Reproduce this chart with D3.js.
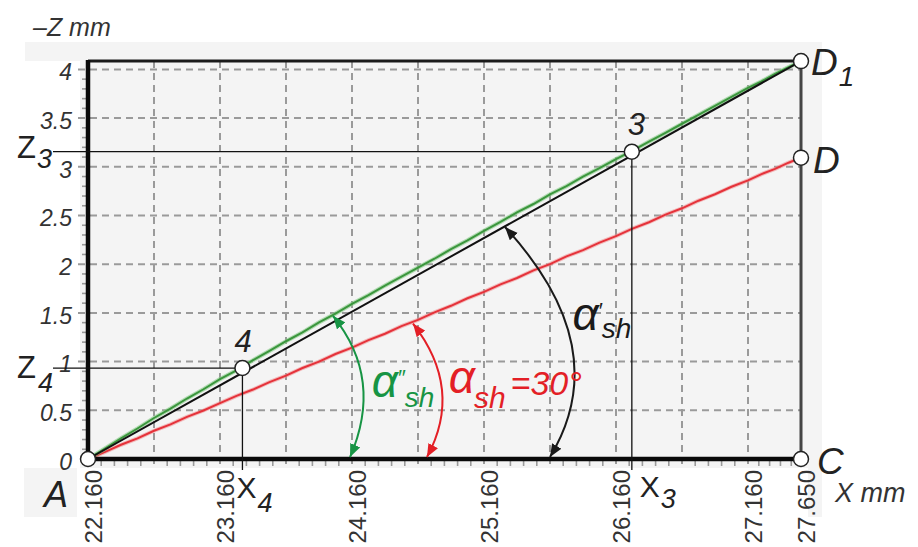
<!DOCTYPE html>
<html>
<head>
<meta charset="utf-8">
<script src="https://cdn.jsdelivr.net/npm/d3@7"></script>
<style>
  body { margin: 0; background: #fff; }
  svg { display: block; font-family: "Liberation Sans", Arial, Helvetica, sans-serif; }
</style>
</head>
<body>
<svg id="chart" width="918" height="547"></svg>
<script>
// ---------- data ----------
// labelled positions along the X axis (mm)
const xTickValues = [22.16, 23.16, 24.16, 25.16, 26.16, 27.16, 27.65];
// dashed vertical grid (mm)
const xGridValues = [22.66, 23.16, 23.66, 24.16, 24.66, 25.16, 25.66, 26.16, 26.66, 27.16];
// labelled positions along the Z axis (mm)
const zTickValues = [0, 0.5, 1, 1.5, 2, 2.5, 3, 3.5, 4];
const zTickLabels = ["0", "0.5", "1", "1.5", "2", "2.5", "3", "3.5", "4"];

// measured profile, green trace
const greenX = [22.160, 22.285, 22.410, 22.535, 22.660, 22.785, 22.910, 23.035, 23.160, 23.285,
                23.410, 23.535, 23.660, 23.785, 23.910, 24.035, 24.160, 24.285, 24.410, 24.535,
                24.660, 24.785, 24.910, 25.035, 25.160, 25.285, 25.410, 25.535, 25.660, 25.785,
                25.910, 26.035, 26.160, 26.285, 26.410, 26.535, 26.660, 26.785, 26.910, 27.035,
                27.160, 27.285, 27.410, 27.535, 27.650];
const greenZ = [0.000, 0.104, 0.212, 0.313, 0.421, 0.517, 0.621, 0.716, 0.820, 0.911,
                1.014, 1.110, 1.209, 1.299, 1.403, 1.493, 1.592, 1.683, 1.781, 1.872,
                1.965, 2.056, 2.154, 2.245, 2.343, 2.434, 2.532, 2.618, 2.717, 2.802,
                2.900, 2.986, 3.079, 3.165, 3.258, 3.349, 3.442, 3.533, 3.626, 3.717,
                3.810, 3.878, 3.954, 4.023, 4.085];

// measured profile, red trace
const redX = greenX;
const redZ = [0.000, 0.070, 0.146, 0.212, 0.290, 0.356, 0.433, 0.498, 0.574, 0.648,
              0.713, 0.790, 0.856, 0.934, 1.000, 1.078, 1.143, 1.221, 1.286, 1.364,
              1.428, 1.506, 1.573, 1.650, 1.716, 1.793, 1.858, 1.936, 2.001, 2.080,
              2.145, 2.222, 2.288, 2.366, 2.431, 2.509, 2.574, 2.652, 2.718, 2.795,
              2.861, 2.925, 2.979, 3.042, 3.094];

// straight reference line A–D1
const blackX = [22.16, 27.65];
const blackZ = [0, 4.085];

// characteristic points
const pointNames = ["A", "C", "D", "D1", "3", "4"];
const pointX = [22.16, 27.65, 27.65, 27.65, 26.28, 23.33];
const pointZ = [0, 0, 3.094, 4.085, 3.155, 0.934];

// angle arrows: start on the line, bend point, end on the X axis (mm)
const arcNames = ["green", "red", "black"];
const arcStartX = [24.016, 24.622, 25.319];
const arcStartZ = [1.47, 1.39, 2.382];
const arcBendX = [24.402, 25.008, 26.16];
const arcBendZ = [0.821, 0.719, 1.14];
const arcEndX = [24.145, 24.728, 25.66];
const arcEndZ = [0.02, 0.02, 0.02];

// ---------- drawing ----------
const svg = d3.select("#chart");
const GREEN = "#179444", RED = "#e31f26", INK = "#222", TXT = "#333";

const x = d3.scaleLinear().domain([22.16, 27.16, 27.65]).range([88, 748, 801]);
const y = d3.scaleLinear().domain([0, 4]).range([459, 69.4]);
const xMax = 27.65, zTop = 4.085;

// panel background
const bg = svg.append("g").attr("fill", "#f4f4f4");
bg.append("rect").attr("x", 80).attr("y", 42).attr("width", 742).attr("height", 426);
bg.append("rect").attr("x", 25).attr("y", 42).attr("width", 60).attr("height", 19);
bg.append("rect").attr("x", 24).attr("y", 468).attr("width", 53).attr("height", 49);
bg.append("rect").attr("x", 808).attr("y", 468).attr("width", 14).attr("height", 49);

// dashed grid
const grid = svg.append("g")
  .attr("stroke", "#9a9a9a").attr("stroke-width", 2).attr("stroke-dasharray", "7,5");
grid.selectAll("line.h").data(zTickValues.filter(v => v > 0)).join("line")
  .attr("class", "h")
  .attr("x1", 78).attr("x2", x(xMax))
  .attr("y1", d => y(d)).attr("y2", d => y(d));
grid.selectAll("line.v").data(xGridValues).join("line")
  .attr("class", "v")
  .attr("x1", d => x(d)).attr("x2", d => x(d))
  .attr("y1", y(zTop)).attr("y2", 468);

// minor ticks
const minor = svg.append("g").attr("stroke", "#9a9a9a").attr("stroke-width", 1.6);
minor.selectAll("line.mz").data(d3.range(1, 41).filter(i => i % 5 !== 0).map(i => i / 10)).join("line")
  .attr("class", "mz")
  .attr("x1", x(22.16) - 6).attr("x2", x(22.16))
  .attr("y1", d => y(d)).attr("y2", d => y(d));
minor.selectAll("line.mx").data(d3.range(1, 55).filter(i => i % 5 !== 0).map(i => 22.16 + i / 10)).join("line")
  .attr("class", "mx")
  .attr("x1", d => x(d)).attr("x2", d => x(d))
  .attr("y1", y(0)).attr("y2", y(0) + 7);

// traces
const line = d3.line().x(d => x(d[0])).y(d => y(d[1]));
const redPts = redX.map((v, i) => [v, redZ[i]]);
const greenPts = greenX.map((v, i) => [v, greenZ[i]]);
const blackPts = blackX.map((v, i) => [v, blackZ[i]]);

svg.append("path").datum(redPts).attr("d", line)
  .attr("fill", "none").attr("stroke", "#f08a8c").attr("stroke-width", 4).attr("opacity", 0.55);
svg.append("path").datum(redPts).attr("d", line)
  .attr("fill", "none").attr("stroke", "#e5323a").attr("stroke-width", 2);
svg.append("path").datum(greenPts).attr("d", line)
  .attr("fill", "none").attr("stroke", "#86c986").attr("stroke-width", 4.2).attr("opacity", 0.6);
svg.append("path").datum(greenPts).attr("d", line)
  .attr("fill", "none").attr("stroke", "#3b963d").attr("stroke-width", 2);
svg.append("path").datum(blackPts).attr("d", line)
  .attr("fill", "none").attr("stroke", "#111").attr("stroke-width", 2);

// frame
const frame = svg.append("g").attr("fill", "none");
frame.append("line").attr("x1", x(22.16)).attr("x2", x(xMax)).attr("y1", y(zTop)).attr("y2", y(zTop))
  .attr("stroke", "#1a1a1a").attr("stroke-width", 3);
frame.append("line").attr("x1", x(xMax)).attr("x2", x(xMax)).attr("y1", y(zTop)).attr("y2", y(0))
  .attr("stroke", "#454545").attr("stroke-width", 3);
frame.append("line").attr("x1", x(22.16)).attr("x2", x(22.16)).attr("y1", y(zTop) - 1).attr("y2", y(0) + 2)
  .attr("stroke", "#0a0a0a").attr("stroke-width", 4.5);
frame.append("line").attr("x1", x(22.16) - 2).attr("x2", x(xMax)).attr("y1", y(0)).attr("y2", y(0))
  .attr("stroke", "#0a0a0a").attr("stroke-width", 4.5);

// axis tick labels
const yAxis = d3.axisLeft(y).tickValues(zTickValues)
  .tickFormat((d, i) => zTickLabels[i]).tickSize(0).tickPadding(16);
const gy = svg.append("g").attr("transform", `translate(${x(22.16)},0)`).call(yAxis);
gy.select(".domain").remove();
gy.selectAll("text")
  .attr("font-family", "'Liberation Sans', Arial, sans-serif")
  .attr("font-size", 23).attr("font-style", "italic").attr("fill", TXT)
  .attr("y", 3);

const xAxis = d3.axisBottom(x).tickValues(xTickValues).tickFormat(d3.format(".3f")).tickSize(0);
const gx = svg.append("g").attr("transform", `translate(0,${y(0)})`).call(xAxis);
gx.select(".domain").remove();
gx.selectAll("text")
  .attr("font-family", "'Liberation Sans', Arial, sans-serif")
  .attr("font-size", 24).attr("fill", TXT)
  .attr("transform", "rotate(-90)")
  .attr("text-anchor", "end")
  .attr("x", -11).attr("y", 5).attr("dy", "0.35em");

// leader lines to points 3 and 4
const leaders = svg.append("g").attr("stroke", "#111").attr("stroke-width", 1.3);
[4, 5].forEach(i => {
  const px = x(pointX[i]), py = y(pointZ[i]);
  leaders.append("line").attr("x1", 53).attr("x2", px).attr("y1", py).attr("y2", py);
  leaders.append("line").attr("x1", px).attr("x2", px).attr("y1", py).attr("y2", y(0) + 11);
});

// arrow markers
const defs = svg.append("defs");
const arcColors = { green: GREEN, red: RED, black: "#1a1a1a" };
arcNames.forEach(n => {
  defs.append("marker").attr("id", "arr-" + n)
    .attr("viewBox", "0 0 12 10").attr("refX", 12).attr("refY", 5)
    .attr("markerUnits", "userSpaceOnUse").attr("markerWidth", 13).attr("markerHeight", 11)
    .attr("orient", "auto-start-reverse")
    .append("path").attr("d", "M0,0 L12,5 L0,10 Z").attr("fill", arcColors[n]);
});
arcNames.forEach((n, i) => {
  const p = d3.path();
  p.moveTo(x(arcStartX[i]), y(arcStartZ[i]));
  p.quadraticCurveTo(x(arcBendX[i]), y(arcBendZ[i]), x(arcEndX[i]), y(arcEndZ[i]));
  svg.append("path").attr("d", p.toString())
    .attr("fill", "none").attr("stroke", arcColors[n]).attr("stroke-width", 2)
    .attr("marker-start", `url(#arr-${n})`).attr("marker-end", `url(#arr-${n})`);
});

// point markers
svg.append("g").selectAll("circle").data(pointNames).join("circle")
  .attr("cx", (d, i) => x(pointX[i])).attr("cy", (d, i) => y(pointZ[i]))
  .attr("r", 7.5).attr("fill", "#fff").attr("stroke", INK).attr("stroke-width", 1.5);

// text built from consecutive runs; each run: [string, size, dy, dx, italic]
function label(px, py, runs, fill) {
  const t = svg.append("text").attr("x", px).attr("y", py).attr("fill", fill || "#222");
  runs.forEach(([s, size, dy, dx, italic]) => {
    t.append("tspan")
      .attr("dy", dy || 0).attr("dx", dx || 0)
      .attr("font-size", size).attr("font-style", italic === false ? "normal" : "italic")
      .text(s);
  });
  return t;
}

// axis titles
label(33, 36, [["–Z mm", 25]], TXT);
label(835, 502, [["X mm", 27]], TXT);

// point letters
const P = i => [x(pointX[i]), y(pointZ[i])];
{
  let [px, py] = P(0); label(px - 44, py + 48, [["A", 36]]);
  [px, py] = P(1); label(px + 16, py + 15, [["C", 37]]);
  [px, py] = P(2); label(px + 12, py + 15, [["D", 37]]);
  [px, py] = P(3); label(px + 10, py + 14, [["D", 37], ["1", 28, 11, 1]]);
  [px, py] = P(4);
  label(px - 4, py - 17, [["3", 31]]);
  label(17, py + 6, [["Z", 31, 0, 0, false], ["3", 27, 10, 1]]);
  label(px + 8, 497, [["X", 30, 0, 0, false], ["3", 27, 11, 1]]);
  [px, py] = P(5);
  label(px - 8, py - 16, [["4", 31]]);
  label(17, py + 10, [["Z", 31, 0, 0, false], ["4", 27, 14, 2]]);
  label(px - 6, 498, [["X", 30, 0, 0, false], ["4", 27, 14, 1]]);
}

// angle labels
{
  // α″sh (green)
  let bx = x(24.31), by = y(0.637);
  label(bx, by, [["α", 46], ["″", 22, -12, -1], ["sh", 28, 22, 0]], GREEN);
  // αsh = 30° (red)
  bx = x(24.90); by = y(0.678);
  label(bx - 1, by, [["α", 46], ["sh", 30, 15, -1], ["=30°", 34, -13, 5]], RED);
  // α′sh (black)
  bx = x(25.83); by = y(1.324);
  label(bx, by, [["α", 46], ["′", 22, -12, -1], ["sh", 28, 20, 0]], "#1a1a1a");
}
</script>
</body>
</html>
